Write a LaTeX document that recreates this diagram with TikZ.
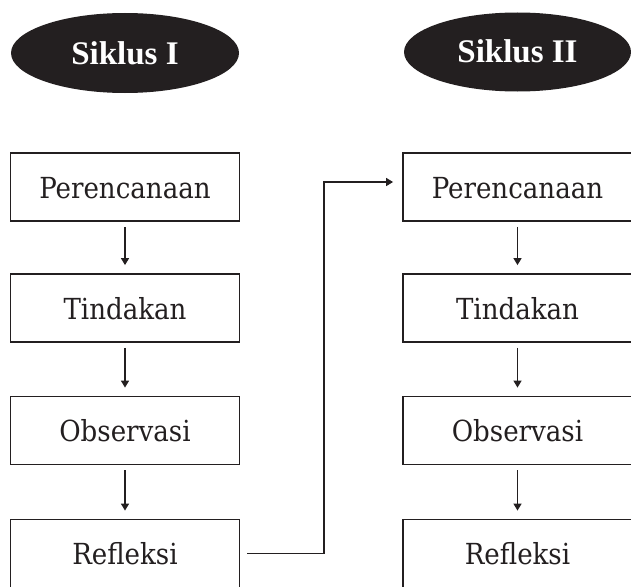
\documentclass[tikz,border=0pt]{standalone}
\usepackage{fontspec}
\newfontfamily\headfont{Liberation Serif}
\newfontfamily\boxfont{DejaVu Serif Condensed}
\usetikzlibrary{arrows.meta,shapes.geometric}
\definecolor{ink}{HTML}{231F20}
\tikzset{
  stepbox/.style={draw=ink, line width=1.8pt, minimum width=229pt, minimum height=68pt,
    inner sep=0pt, text height=22pt, text depth=0pt, font=\boxfont\fontsize{29}{29}\selectfont, text=ink},
  cyclehead/.style={ellipse, fill=ink, draw=none, text=white, inner sep=0pt,
    text height=22pt, text depth=0pt, font=\headfont\bfseries\fontsize{33}{33}\selectfont},
  flow/.style={draw=ink, line width=1.4pt, -{Triangle[length=7pt,width=8pt]}},
}
\begin{document}
\begin{tikzpicture}[x=1pt,y=-1pt]
\useasboundingbox (0,0) rectangle (631,586);
\node[cyclehead, minimum width=228pt, minimum height=80pt] (s1) at (125,53) {Siklus I};
\node[cyclehead, minimum width=227pt, minimum height=79pt] (s2) at (517.5,52) {Siklus II};

\node[stepbox] (p1) at (125,187) {Perencanaan};
\node[stepbox] (t1) at (125,308) {Tindakan};
\node[stepbox] (o1) at (125,430.5) {Observasi};
\node[stepbox] (r1) at (125,553.5) {Refleksi};

\node[stepbox] (p2) at (517.5,187) {Perencanaan};
\node[stepbox] (t2) at (517.5,308) {Tindakan};
\node[stepbox] (o2) at (517.5,430.5) {Observasi};
\node[stepbox] (r2) at (517.5,553.5) {Refleksi};

\foreach \a/\b in {p1/t1, t1/o1, o1/r1, p2/t2, t2/o2, o2/r2}
  \draw[flow] ([yshift=-5pt]\a.south) -- ([yshift=8pt]\b.north);

\coordinate (turn) at (324,0);
\coordinate (from) at ([xshift=7pt]r1.east);
\coordinate (to) at ([xshift=-9pt,yshift=5pt]p2.west);
\draw[flow] (from) -- (turn |- from) -- (turn |- to) -- (to);
\end{tikzpicture}
\end{document}
